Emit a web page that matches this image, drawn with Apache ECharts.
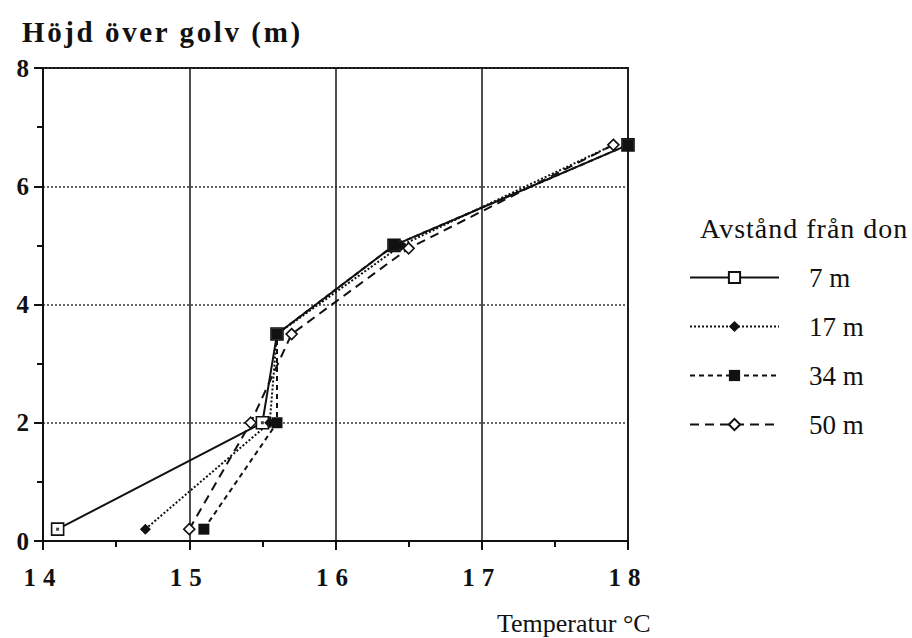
<!DOCTYPE html>
<html>
<head>
<meta charset="utf-8">
<script src="https://cdn.jsdelivr.net/npm/echarts@6/dist/echarts.min.js"></script>
<style>
  html, body { margin: 0; padding: 0; background: #fff; }
  #chart { width: 912px; height: 638px; }
</style>
</head>
<body>
<div id="chart"></div>
<script>
// Temperature profiles (°C) against height above floor (m), one per distance from the supply unit
const seriesNames = ['7 m', '17 m', '34 m', '50 m'];
const heights = [0.2, 2.0, 3.5, 5.0, 6.7];
const temp7  = [14.1, 15.5, 15.6, 16.4, 18.0];
const temp17 = [14.7, 15.55, 15.6, 16.45, 17.9];
const temp34 = [15.1, 15.6, 15.6, 16.4, 18.0];
const heights50 = [0.2, 2.0, 3.5, 4.95, 6.7];
const temp50 = [15.0, 15.42, 15.7, 16.5, 17.9];
const xTicks = [14, 15, 16, 17, 18];
const yTicks = [0, 2, 4, 6, 8];

const yTitle = 'Höjd över golv (m)';
const xTitle = 'Temperatur °C';
const legendTitle = 'Avstånd från don';

const pairs = (xs, ys) => xs.map((x, i) => [x, ys[i]]);
// unquoted family list so it survives inside SVG style attributes
const serif = 'Liberation Serif, Times New Roman, serif';
const ink = '#111';

const chart = echarts.init(document.getElementById('chart'), null, { renderer: 'svg' });

function lineSeries(name, data, dash, symbol, size, fill) {
  return {
    name: name,
    type: 'line',
    data: data,
    symbol: symbol,
    symbolSize: size,
    showSymbol: true,
    lineStyle: { color: ink, width: 2, type: dash },
    itemStyle: { color: fill, borderColor: ink, borderWidth: fill === '#fff' ? 1.6 : 0 },
    emphasis: { disabled: true },
    z: 3
  };
}

chart.setOption({
  animation: false,
  backgroundColor: '#fff',
  grid: {
    left: 43, right: 284, top: 68, bottom: 97,
    show: true, borderColor: ink, borderWidth: 2, backgroundColor: 'transparent'
  },
  xAxis: {
    type: 'value',
    min: xTicks[0], max: xTicks[xTicks.length - 1], interval: 1,
    axisLine: { show: true, lineStyle: { color: ink, width: 2 } },
    axisTick: { show: true, inside: false, length: 9, lineStyle: { color: ink, width: 2 } },
    minorTick: { show: true, splitNumber: 2, length: 6, lineStyle: { color: ink, width: 2 } },
    axisLabel: {
      color: ink, fontFamily: serif, fontWeight: 'bold', fontSize: 25, margin: 24,
      formatter: v => xTicks.includes(v) ? String(v) : ''
    },
    splitLine: { show: true, lineStyle: { color: '#222', width: 1.6, type: 'solid' } }
  },
  yAxis: {
    type: 'value',
    min: yTicks[0], max: yTicks[yTicks.length - 1], interval: 2,
    axisLine: { show: true, lineStyle: { color: ink, width: 2 } },
    axisTick: { show: true, inside: false, length: 9, lineStyle: { color: ink, width: 2 } },
    minorTick: { show: true, splitNumber: 2, length: 6, lineStyle: { color: ink, width: 2 } },
    axisLabel: {
      color: ink, fontFamily: serif, fontWeight: 'bold', fontSize: 25, margin: 14,
      formatter: v => yTicks.includes(v) ? String(v) : ''
    },
    splitLine: { show: true, lineStyle: { color: '#333', width: 1.6, type: [2, 2] } }
  },
  legend: {
    orient: 'vertical',
    left: 689, top: 264, padding: 0,
    itemWidth: 89, itemHeight: 14, itemGap: 22,
    data: seriesNames,
    textStyle: { color: ink, fontFamily: serif, fontSize: 27, padding: [0, 0, 0, 25] }
  },
  graphic: [
    {
      type: 'text', left: 22, top: 17,
      style: { text: yTitle, fill: ink, font: 'bold 29px ' + serif }
    },
    {
      type: 'text', left: 497, top: 610,
      style: { text: xTitle, fill: ink, font: '26px ' + serif }
    },
    {
      type: 'text', left: 700, top: 214,
      style: { text: legendTitle, fill: ink, font: '28px ' + serif }
    }
  ],
  series: [
    lineSeries(seriesNames[0], pairs(temp7, heights), 'solid', 'rect', 12, '#fff'),
    lineSeries(seriesNames[1], pairs(temp17, heights), [2, 2], 'diamond', 11, ink),
    lineSeries(seriesNames[2], pairs(temp34, heights), [5, 4], 'rect', 11, ink),
    lineSeries(seriesNames[3], pairs(temp50, heights50), [9, 6], 'diamond', 11, '#fff'),
    {
      // centre dots of the open squares on the 7 m profile
      name: '7 m dots',
      type: 'scatter',
      data: pairs(temp7, heights),
      symbol: 'rect',
      symbolSize: 3,
      itemStyle: { color: ink },
      silent: true,
      z: 5
    }
  ]
});

// Old typesetting look: widen the letter spacing of the titles and the two-digit tick labels
const tracking = {};
tracking[yTitle] = 2.6;
tracking[legendTitle] = 1;
xTicks.forEach(v => { tracking[String(v)] = 7; });
function applyTracking() {
  document.querySelectorAll('#chart svg text').forEach(t => {
    const s = tracking[t.textContent];
    if (s) {
      t.setAttribute('letter-spacing', s + 'px');
      t.style.letterSpacing = s + 'px';
    }
  });
}
applyTracking();
chart.on('finished', applyTracking);
setTimeout(applyTracking, 0);
</script>
</body>
</html>
